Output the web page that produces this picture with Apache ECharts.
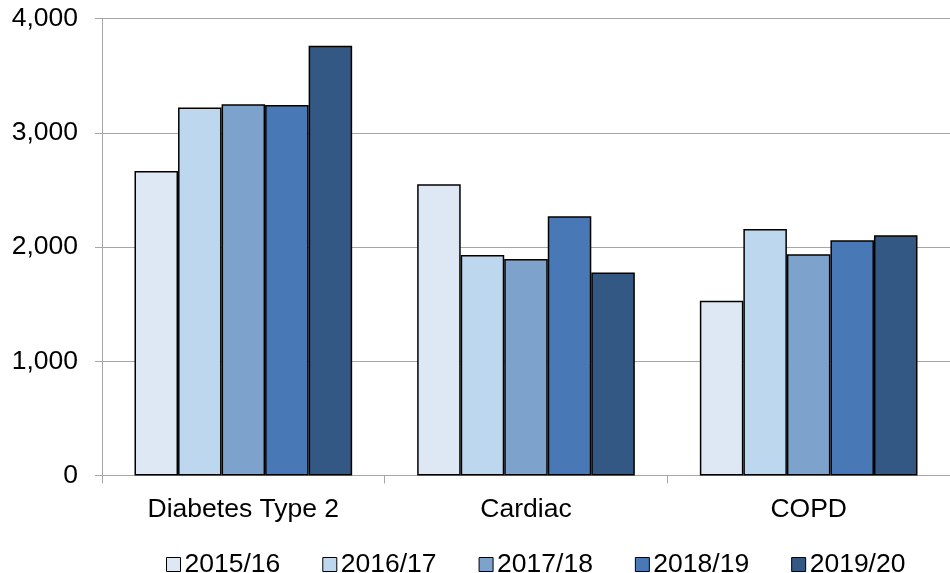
<!DOCTYPE html>
<html>
<head>
<meta charset="utf-8">
<script src="https://cdn.jsdelivr.net/npm/echarts@6/dist/echarts.min.js"></script>
<style>
  html, body { margin: 0; padding: 0; background: #ffffff; }
  #chart { width: 950px; height: 573px; }
</style>
</head>
<body>
<div id="chart"></div>
<script>
// Conditions and reporting years
const categories = ['Diabetes Type 2', 'Cardiac', 'COPD'];
const years = ['2015/16', '2016/17', '2017/18', '2018/19', '2019/20'];

// Values per year, in category order
const v2015 = [2665, 2550, 1530];
const v2016 = [3222, 1930, 2158];
const v2017 = [3250, 1895, 1936];
const v2018 = [3243, 2270, 2060];
const v2019 = [3762, 1776, 2102];

// Y axis ticks
const yTicks = [0, 1000, 2000, 3000, 4000];

const seriesValues = [v2015, v2016, v2017, v2018, v2019];
const colors = ['#DDE8F4', '#BDD7EE', '#7DA2CC', '#4879B6', '#335883'];

const FONT = '"Liberation Sans", Arial, sans-serif';
const GRID_GRAY = '#A6A6A6';

const chart = echarts.init(document.getElementById('chart'), null, { renderer: 'canvas' });

chart.setOption({
  animation: false,
  backgroundColor: '#ffffff',
  textStyle: { fontFamily: FONT },
  grid: { left: 102, top: 18.5, width: 858, bottom: 97.5, containLabel: false },
  legend: {
    data: years,
    left: 161,
    top: 546,
    icon: 'rect',
    itemWidth: 14,
    itemHeight: 14,
    itemGap: 42,
    textStyle: { fontFamily: FONT, fontSize: 26.5, color: '#000000', padding: [0, 0, 0, -1] },
    itemStyle: { borderColor: '#000000', borderWidth: 1 }
  },
  xAxis: {
    type: 'category',
    data: categories,
    axisLine: { lineStyle: { color: GRID_GRAY, width: 1 } },
    axisTick: { show: true, length: 8, lineStyle: { color: GRID_GRAY } },
    axisLabel: { fontFamily: FONT, fontSize: 26.5, color: '#000000', margin: 21 }
  },
  yAxis: {
    type: 'value',
    min: yTicks[0],
    max: yTicks[yTicks.length - 1],
    interval: yTicks[1] - yTicks[0],
    axisLine: { show: true, lineStyle: { color: GRID_GRAY, width: 1 } },
    axisTick: { show: true, length: 7, lineStyle: { color: GRID_GRAY } },
    splitLine: { show: true, lineStyle: { color: GRID_GRAY, width: 1 } },
    axisLabel: {
      fontFamily: FONT, fontSize: 26.5, color: '#000000', margin: 24,
      formatter: (v) => v.toLocaleString('en-US')
    }
  },
  series: years.map((name, i) => ({
    name: name,
    type: 'bar',
    data: seriesValues[i],
    barGap: '0%',
    barCategoryGap: '23%',
    itemStyle: { color: colors[i], borderColor: '#000000', borderWidth: 1.5 }
  }))
});
</script>
</body>
</html>
